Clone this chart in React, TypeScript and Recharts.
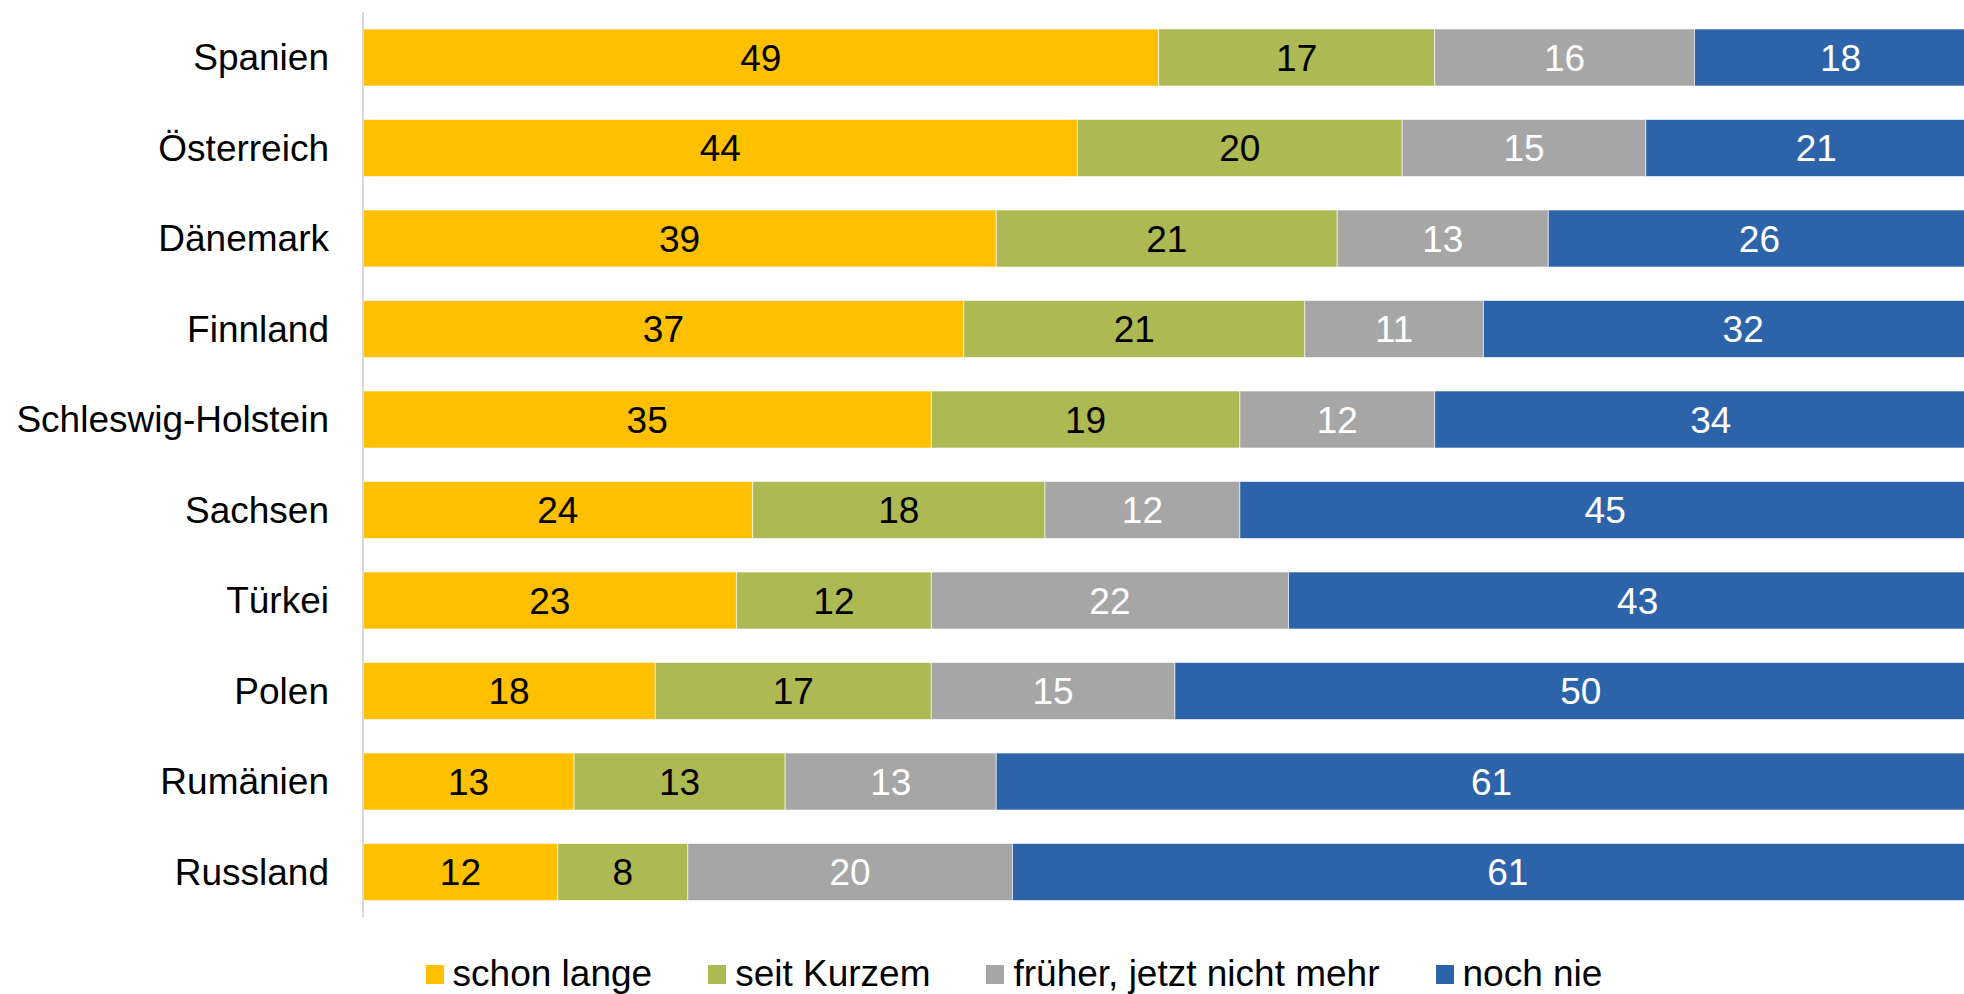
import React from "react";
import { BarChart, Bar, XAxis, YAxis, LabelList, Legend } from "recharts";

const categories = [
  "Spanien",
  "Österreich",
  "Dänemark",
  "Finnland",
  "Schleswig-Holstein",
  "Sachsen",
  "Türkei",
  "Polen",
  "Rumänien",
  "Russland",
];
const schonLange = [49, 44, 39, 37, 35, 24, 23, 18, 13, 12];
const seitKurzem = [17, 20, 21, 21, 19, 18, 12, 17, 13, 8];
const frueher = [16, 15, 13, 11, 12, 12, 22, 15, 13, 20];
const nochNie = [18, 21, 26, 32, 34, 45, 43, 50, 61, 61];

const seriesNames = ["schon lange", "seit Kurzem", "früher, jetzt nicht mehr", "noch nie"];
const seriesKeys = ["a", "b", "c", "d"];
const seriesColors = ["#FFC000", "#ADB953", "#A6A6A6", "#2D63A9"];
const labelColors = ["#000000", "#000000", "#FFFFFF", "#FFFFFF"];

const data = categories.map((name, i) => ({
  name,
  a: schonLange[i],
  b: seitKurzem[i],
  c: frueher[i],
  d: nochNie[i],
}));

const FONT = "'Liberation Sans', Arial, sans-serif";

const LegendContent = () => (
  <div
    style={{
      display: "flex",
      justifyContent: "center",
      alignItems: "center",
      fontFamily: FONT,
      fontSize: 37,
      color: "#000",
      lineHeight: "36px",
      height: 36,
      whiteSpace: "nowrap",
    }}
  >
    {seriesNames.map((n, i) => (
      <div key={n} style={{ display: "flex", alignItems: "center", marginLeft: i === 0 ? 0 : 56 }}>
        <span
          style={{
            display: "inline-block",
            width: 18,
            height: 19,
            background: seriesColors[i],
            marginRight: 9,
          }}
        />
        <span>{n}</span>
      </div>
    ))}
  </div>
);

export default function App() {
  return (
    <div
      style={{
        position: "absolute",
        left: 0,
        top: 0,
        width: 1964,
        height: 994,
        overflow: "hidden",
        background: "#fff",
      }}
    >
      <BarChart
        width={2003}
        height={994}
        data={data}
        layout="vertical"
        margin={{ top: 12, right: 0, bottom: 77, left: 0 }}
        barSize={57}
      >
        <XAxis type="number" domain={[0, 100]} hide />
        <YAxis
          type="category"
          dataKey="name"
          width={363}
          tickLine={false}
          tickSize={0}
          tickMargin={34}
          axisLine={{ stroke: "#D9D9D9", strokeWidth: 2 }}
          tick={{ fill: "#000", fontSize: 37, fontFamily: FONT }}
          interval={0}
        />
        <Legend
          layout="horizontal"
          verticalAlign="middle"
          align="center"
          content={<LegendContent />}
          wrapperStyle={{ top: 956, left: 32, width: 1964 }}
        />
        {seriesKeys.map((k, i) => (
          <Bar
            key={k}
            dataKey={k}
            name={seriesNames[i]}
            stackId="s"
            fill={seriesColors[i]}
            stroke="#FFFFFF"
            strokeOpacity={0.6}
            strokeWidth={1}
            isAnimationActive={false}
          >
            <LabelList
              dataKey={k}
              position="center"
              fill={labelColors[i]}
              style={{ fontSize: 37, fontFamily: FONT }}
            />
          </Bar>
        ))}
      </BarChart>
    </div>
  );
}
